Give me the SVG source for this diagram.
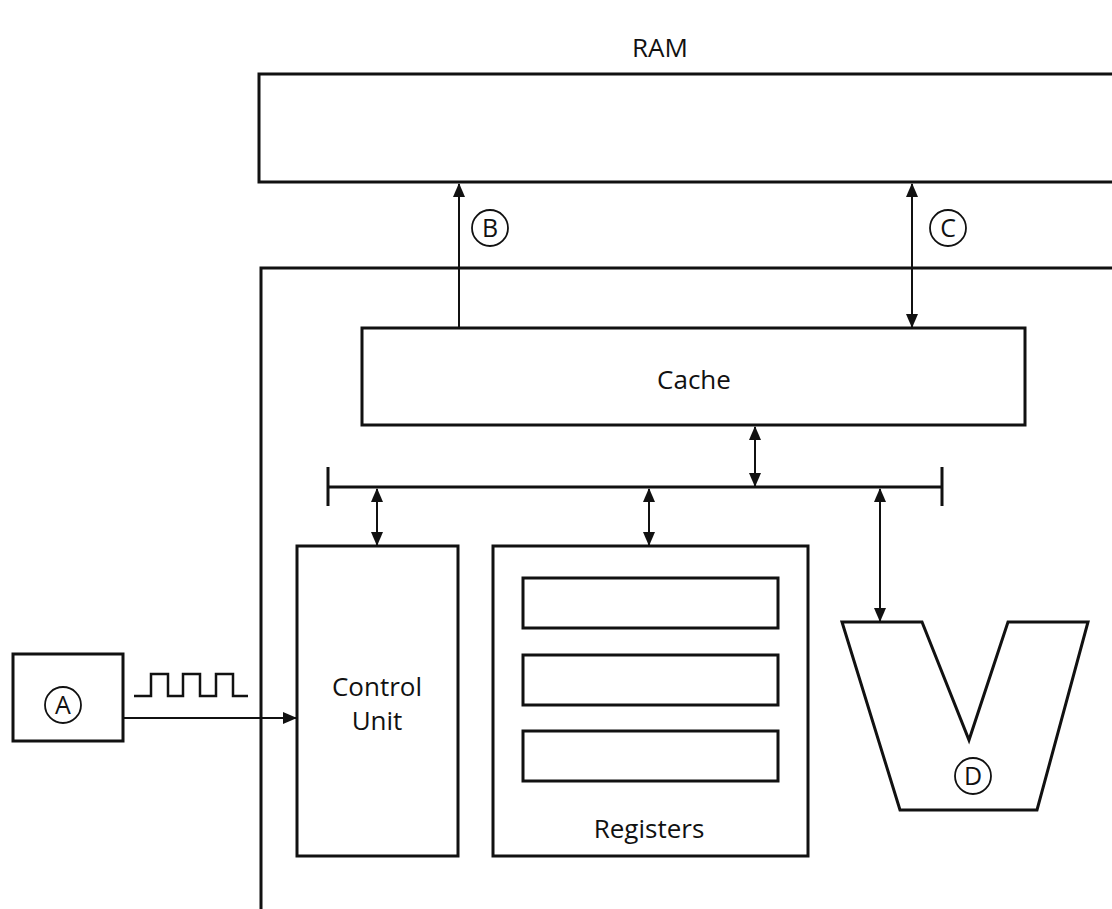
<svg xmlns="http://www.w3.org/2000/svg" width="1112" height="909" viewBox="0 0 1112 909">
<defs>
<marker id="ah" viewBox="0 0 14 12" refX="13" refY="6" markerWidth="14" markerHeight="12" markerUnits="userSpaceOnUse" orient="auto-start-reverse">
<path d="M0,0 L14,6 L0,12 Z" fill="#111"/>
</marker>
</defs>
<style>
.box{fill:none;stroke:#111;stroke-width:3}
.ln{fill:none;stroke:#111;stroke-width:2}
.wave{fill:none;stroke:#111;stroke-width:2.5}
.lbl{font-family:"Open Sans","Liberation Sans",sans-serif;font-size:26px;fill:#111;text-anchor:middle}
.cl{fill:none;stroke:#111;stroke-width:1.8}
.ct{font-family:"Open Sans","Liberation Sans",sans-serif;font-size:25px;fill:#111;text-anchor:middle}
</style>
<rect width="1112" height="909" fill="#fff"/>
<g id="ram">
<path class="box" d="M1115,74 H259 V182 H1115"/>
<text class="lbl" x="660" y="57">RAM</text>
</g>
<g id="cpu">
<path class="box" d="M1115,268 H261 V912"/>
</g>
<g id="cache">
<rect class="box" x="362" y="328" width="663" height="97"/>
<text class="lbl" x="694" y="389">Cache</text>
</g>
<g id="control-unit">
<rect class="box" x="297" y="546" width="161" height="310"/>
<text class="lbl" x="377" y="696">Control</text>
<text class="lbl" x="377" y="730">Unit</text>
</g>
<g id="registers">
<rect class="box" x="493" y="546" width="315" height="310"/>
<rect class="box" x="523" y="578" width="255" height="50"/>
<rect class="box" x="523" y="655" width="255" height="50"/>
<rect class="box" x="523" y="731" width="255" height="50"/>
<text class="lbl" x="649" y="838">Registers</text>
</g>
<g id="alu">
<polygon class="box" points="842,622 922,622 969,740 1008,622 1088,622 1037,810 900,810"/>
<circle class="cl" cx="973" cy="776" r="18"/>
<text class="ct" x="973" y="785">D</text>
</g>
<g id="clock">
<rect class="box" x="13" y="654" width="110" height="87"/>
<circle class="cl" cx="63" cy="705" r="18"/>
<text class="ct" x="63" y="714">A</text>
<path class="wave" d="M134,696 H151 V674 H168 V696 H183 V674 H200 V696 H216 V674 H233 V696 H248"/>
</g>
<g id="bus">
<path class="box" d="M328,487 H942 M328,467 V506 M942,467 V506"/>
</g>
<g id="connectors">
<line class="ln" x1="124" y1="718" x2="296" y2="718" marker-end="url(#ah)"/>
<line class="ln" x1="459" y1="328" x2="459" y2="184" marker-end="url(#ah)"/>
<line class="ln" x1="912" y1="184" x2="912" y2="327" marker-start="url(#ah)" marker-end="url(#ah)"/>
<line class="ln" x1="755" y1="427" x2="755" y2="486" marker-start="url(#ah)" marker-end="url(#ah)"/>
<line class="ln" x1="377" y1="489" x2="377" y2="545" marker-start="url(#ah)" marker-end="url(#ah)"/>
<line class="ln" x1="649" y1="489" x2="649" y2="545" marker-start="url(#ah)" marker-end="url(#ah)"/>
<line class="ln" x1="880" y1="489" x2="880" y2="621" marker-start="url(#ah)" marker-end="url(#ah)"/>
<circle class="cl" cx="490" cy="228" r="18"/>
<text class="ct" x="490" y="237">B</text>
<circle class="cl" cx="948" cy="228" r="18"/>
<text class="ct" x="948" y="237">C</text>
</g>
</svg>
